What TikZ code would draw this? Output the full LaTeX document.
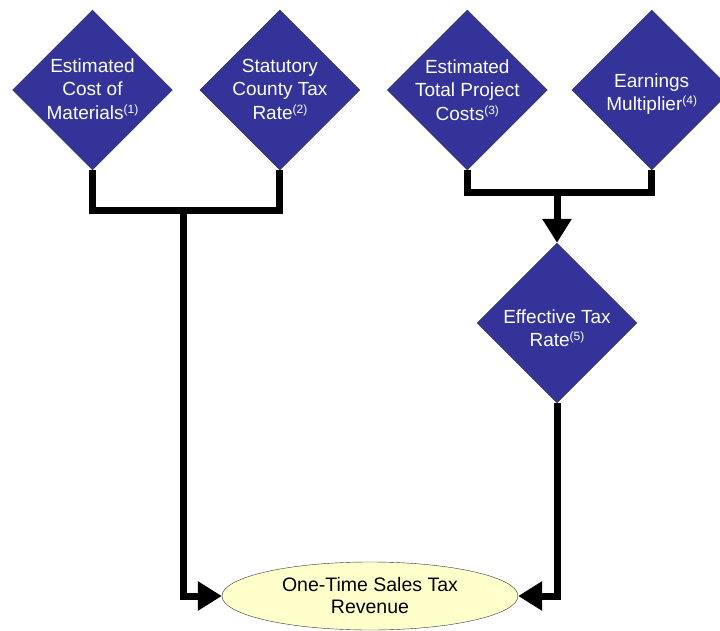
\documentclass[tikz,border=0pt]{standalone}
\usepackage{fontspec}
\setmainfont{Liberation Sans}
\usetikzlibrary{positioning,shapes.geometric,arrows.meta}
\definecolor{dblue}{HTML}{333399}
\definecolor{lyellow}{HTML}{FFFFCC}
\newcommand{\supnum}[1]{\raisebox{6pt}{\fontsize{12}{12}\selectfont(#1)}}

\begin{document}
\begin{tikzpicture}[x=1pt, y=-1pt,
	dstyle/.style={diamond, fill=dblue, draw=black!80, thin, 
	minimum size=160pt, inner sep=0pt},
	tstyle/.style={text=white, align=center, font=\fontsize{19}{23.5}\selectfont},
	estyle/.style={ellipse, fill=lyellow, draw=black!80, thin, minimum width=296pt,
	minimum height=68pt, align=center, font=\fontsize{19.5}{22}\selectfont},
	cstyle/.style={line width=7pt, black},
	arrstyle/.style={-{Triangle[length=24pt,width=28pt]}}
	]
	\useasboundingbox (0,0) rectangle (720,631);
	\node[dstyle, label={[tstyle, yshift=1pt]center:Estimated\\Cost of\\Materials\supnum{1}}] (cost) at (92.5,90) {};
	\node[dstyle, label={[tstyle, yshift=1pt]center:Statutory\\County Tax\\Rate\supnum{2}}] (rate) [right=27pt of cost] {};
	\node[dstyle, label={[tstyle]center:Estimated\\Total Project\\Costs\supnum{3}}] (projcost) [right=27pt of rate] {};
	\node[dstyle, label={[tstyle, yshift=-4pt]center:Earnings\\Multiplier\supnum{4}}] (mult) [right=24pt of projcost] {};
	\node[dstyle, label={[tstyle, yshift=-5pt]center:Effective Tax\\Rate\supnum{5}}] (eff) at (557,323) {};
	\node[estyle] (sales) at (370,596) {One-Time Sales Tax\\Revenue};
	
	\coordinate (jl) at (183,210);
	\coordinate (jr) at (557,193);
	\draw[cstyle] (cost.south) -- ++(0,40) -| (rate.south);
	\draw[cstyle, arrstyle] (jl) |- (sales.west);
	\draw[cstyle] (projcost.south) -- ++(0,22) -| (mult.south);
	\draw[cstyle, arrstyle] (jr) -- (eff.north);
	\draw[cstyle, arrstyle] (eff.south) |- (sales.east);
\end{tikzpicture}
\end{document}
